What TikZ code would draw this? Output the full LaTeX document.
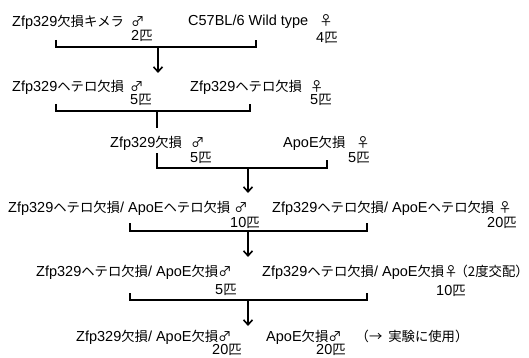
\documentclass[tikz,border=0pt]{standalone}
\usepackage{fontspec}
\setmainfont{Liberation Sans}
\newfontfamily\jpf{Noto Sans CJK JP}[Scale=0.92]
\newcommand\J[1]{{\jpf #1}}
\usetikzlibrary{arrows.meta}
\begin{document}
\begin{tikzpicture}[x=1pt,y=-1pt,
  lbl/.style={anchor=west,inner sep=0pt,font=\fontsize{14.5}{16}\selectfont},
  br/.style={line width=1.6pt},
  arr/.style={line width=1.6pt,-{Straight Barb[length=5pt,width=9pt]}}]
\useasboundingbox[fill=white] (0,0) rectangle (529,358);
% row 1
\node[lbl] (r1l) at (12,22) {Zfp329\J{欠損キメラ}\hspace{7pt}\J{♂}};
\node[lbl] (r1r) at (188,22) {C57BL/6 Wild type\hspace{11pt}\J{♀}};
\node[lbl] (n1l) at (131,36) {2\J{匹}};
\node[lbl] (n1r) at (316,38) {4\J{匹}};
\coordinate (b1a) at (56,40); \coordinate (b1b) at (256,40);
\coordinate (b1m) at (158,47); \coordinate (t1) at (158,73);
\draw[br] (b1a) |- (b1b |- b1m) -- (b1b);
\draw[arr] (b1m) -- (t1);
% row 2
\node[lbl] (r2l) at (12,87) {Zfp329\J{ヘテロ欠損}\hspace{6pt}\J{♂}};
\node[lbl] (r2r) at (190,87) {Zfp329\J{ヘテロ欠損}\hspace{8pt}\J{♀}};
\node[lbl] (n2l) at (130,100) {5\J{匹}};
\node[lbl] (n2r) at (310,100) {5\J{匹}};
\coordinate (b2a) at (56,104); \coordinate (b2b) at (250,104);
\coordinate (b2m) at (157,111);
\draw[br] (b2a) |- (b2b |- b2m) -- (b2b);
% row 3
\node[lbl] (r3l) at (110,143) {Zfp329\J{欠損}\hspace{9pt}\J{♂}};
\node[lbl] (r3r) at (283,143) {ApoE\J{欠損}\hspace{11pt}\J{♀}};
\node[lbl] (n3l) at (190,158) {5\J{匹}};
\node[lbl] (n3r) at (348,158) {5\J{匹}};
\coordinate (b3a) at (157,128); \coordinate (b3c) at (157,153);
\coordinate (b3b) at (327,160); \coordinate (b3m) at (248,168);
\coordinate (t3) at (248,193);
\draw[br] (b2m) -- (b3a);
\draw[br] (b3c) |- (b3b |- b3m) -- (b3b);
\draw[arr] (b3m) -- (t3);
% row 4
\node[lbl] (r4l) at (8,208) {Zfp329\J{ヘテロ欠損}/ ApoE\J{ヘテロ欠損}\hspace{4pt}\J{♂}};
\node[lbl] (r4r) at (272,208) {Zfp329\J{ヘテロ欠損}/ ApoE\J{ヘテロ欠損}\hspace{4pt}\J{♀}};
\node[lbl] (n4l) at (230,223) {10\J{匹}};
\node[lbl] (n4r) at (487,223) {20\J{匹}};
\coordinate (b4a) at (130,223); \coordinate (b4b) at (367,223);
\coordinate (b4m) at (248,231); \coordinate (t4) at (248,257);
\draw[br] (b4a) |- (b4b |- b4m) -- (b4b);
\draw[arr] (b4m) -- (t4);
% row 5
\node[lbl] (r5l) at (36,272) {Zfp329\J{ヘテロ欠損}/ ApoE\J{欠損♂}};
\node[lbl] (r5r) at (262,272) {Zfp329\J{ヘテロ欠損}/ ApoE\J{欠損♀\hspace{-3pt}（2度交配）}};
\node[lbl] (n5l) at (215,290) {5\J{匹}};
\node[lbl] (n5r) at (436,291) {10\J{匹}};
\coordinate (b5a) at (130,293); \coordinate (b5b) at (367,293);
\coordinate (b5m) at (248,300); \coordinate (t5) at (248,326);
\draw[br] (b5a) |- (b5b |- b5m) -- (b5b);
\draw[arr] (b5m) -- (t5);
% row 6
\node[lbl] (r6l) at (76,337) {Zfp329\J{欠損}/ ApoE\J{欠損♂}};
\node[lbl] (r6r) at (266,337) {ApoE\J{欠損♂}\hspace{14pt}\J{（→\ \ 実験に使用）}};
\node[lbl] (n6l) at (212,350) {20\J{匹}};
\node[lbl] (n6r) at (316,350) {20\J{匹}};
\end{tikzpicture}
\end{document}
